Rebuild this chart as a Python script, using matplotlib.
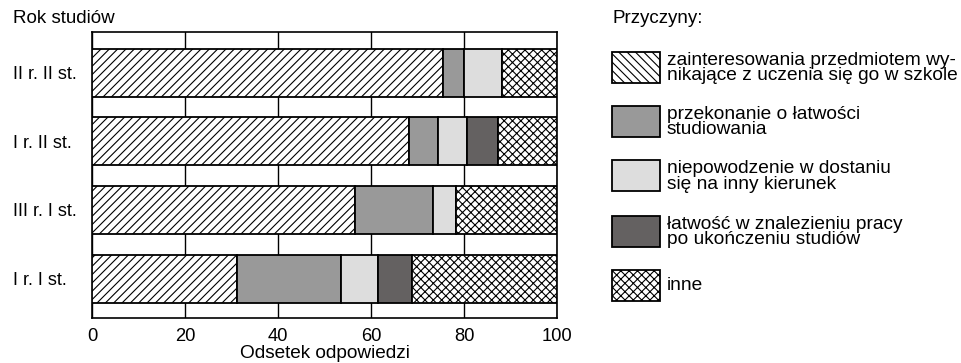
import numpy as np
import matplotlib
matplotlib.use('Agg')
import matplotlib.pyplot as plt
from matplotlib.patches import Rectangle

plt.rcParams['font.family'] = ['Liberation Sans', 'DejaVu Sans']
plt.rcParams['hatch.linewidth'] = 0.8

# rok studiow (od gory do dolu)
years = ['II r. II st.', 'I r. II st.', 'III r. I st.', 'I r. I st.']

# odsetek odpowiedzi dla kazdej przyczyny
interest = [75.5, 68.2, 56.6, 31.1]
easy_study = [4.5, 6.3, 16.7, 22.4]
failed_other = [8.1, 6.1, 4.9, 7.9]
easy_job = [0.0, 6.8, 0.0, 7.5]
other = [11.9, 12.6, 21.8, 31.1]

reasons = [
    'zainteresowania przedmiotem wy-\nnikające z uczenia się go w szkole',
    'przekonanie o łatwości\nstudiowania',
    'niepowodzenie w dostaniu\nsię na inny kierunek',
    'łatwość w znalezieniu pracy\npo ukończeniu studiów',
    'inne',
]

series = [interest, easy_study, failed_other, easy_job, other]
faces = ['white', '#999999', '#dddddd', '#646161', 'white']
hatches = ['////', None, None, None, 'xxxx']
legend_hatches = ['\\\\\\\\', None, None, None, 'xxxx']

W, H = 962, 363
fig = plt.figure(figsize=(W / 100, H / 100), dpi=100)
ax = fig.add_axes([92 / W, (H - 318) / H, (557 - 92) / W, (318 - 31.7) / H])

ypos = np.arange(len(years))[::-1]
left = np.zeros(len(years))
for vals, fc, h in zip(series, faces, hatches):
    vals = np.array(vals)
    ax.barh(ypos, vals, left=left, height=0.7, color=fc, hatch=h,
            edgecolor='black', linewidth=1.3, zorder=3)
    left += vals

ax.set_xlim(0, 100)
ax.set_ylim(-0.575, 3.6)
ax.set_xticks([0, 20, 40, 60, 80, 100])
ax.grid(axis='x', color='black', linewidth=1.0)
ax.set_axisbelow(True)
ax.set_yticks(ypos)
ax.set_yticklabels(years, ha='left')
ax.tick_params(axis='y', length=0, pad=57, labelsize=13)
ax.tick_params(axis='x', length=0, pad=7, labelsize=13.2)
for s in ax.spines.values():
    s.set_linewidth(1.2)
ax.set_xlabel('Odsetek odpowiedzi', fontsize=13.7, labelpad=0)

fig.text(13 / W, 1 - 23 / H, 'Rok studiów', fontsize=13.5, va='baseline')
fig.text(612 / W, 1 - 23 / H, 'Przyczyny:', fontsize=13.5, va='baseline')


def px(x, y):
    return x / W, 1 - y / H


# legenda
centers = [67, 121, 175.5, 231, 285]
for label, fc, h, cy in zip(reasons, faces, legend_hatches, centers):
    x0, y0 = px(611.5, cy + 15.5)
    fig.add_artist(Rectangle((x0, y0), 48 / W, 31 / H, transform=fig.transFigure,
                             facecolor=fc, hatch=h, edgecolor='black', linewidth=1.3))
    fig.text(*px(667, cy + 1), label, fontsize=13.8, va='center', linespacing=0.9)

fig.savefig('out.png', dpi=100)
